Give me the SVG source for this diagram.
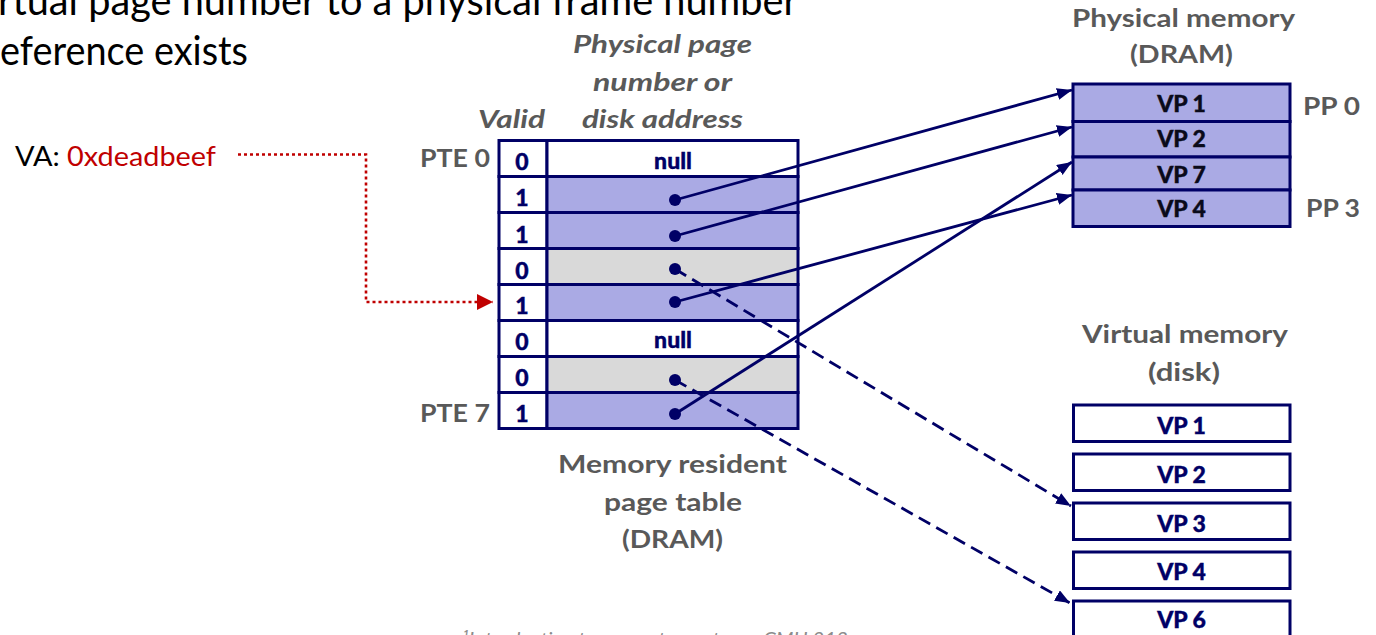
<svg xmlns="http://www.w3.org/2000/svg" width="1376" height="635" viewBox="0 0 1376 635">
  <defs>
    <style>
      .slide { font-family: Lato, "Liberation Sans", sans-serif; font-size: 40px; fill: #000; }
      .lbl { font-family: Lato, "Liberation Sans", sans-serif; font-weight: bold; font-size: 25px; fill: #595959; text-anchor: middle; }
      .hdr { font-style: italic; }
      .end { text-anchor: end; }
      .start { text-anchor: start; }
      .cell { fill: #fff; stroke: #000066; stroke-width: 3; }
      .mapped { fill: #aaaae4; }
      .ondisk { fill: #d9d9d9; }
      .num { font-family: Lato, "Liberation Sans", sans-serif; font-weight: 900; font-size: 23px; fill: #000066; text-anchor: middle; stroke: #000066; stroke-width: 0.4; }
      .vp { font-family: Lato, "Liberation Sans", sans-serif; font-weight: 900; font-size: 23px; fill: #0a0a1a; text-anchor: middle; stroke: #0a0a1a; stroke-width: 0.4; }
      .link { stroke: #000066; stroke-width: 2.8; fill: none; marker-end: url(#ah); }
      .dash { stroke-dasharray: 13 7; }
      .dot { fill: #000066; }
      .note { font-family: Lato, "Liberation Sans", sans-serif; font-style: italic; font-size: 19px; fill: #8c8c8c; }
    </style>
    <marker id="ah" markerUnits="userSpaceOnUse" markerWidth="16" markerHeight="14" refX="15" refY="6" orient="auto">
      <path d="M0,0 L15,6 L0,12 z" fill="#000066"/>
    </marker>
    <marker id="ahRed" markerUnits="userSpaceOnUse" markerWidth="17" markerHeight="16" refX="16" refY="8" orient="auto">
      <path d="M0,0 L16,8 L0,16 z" fill="#c00000"/>
    </marker>
  </defs>

  <!-- slide body text (partly clipped at the left and top) -->
  <g id="slide-text">
    <text class="slide" x="-2" y="15" textLength="800" lengthAdjust="spacingAndGlyphs">rtual page number to a physical frame number</text>
    <text class="slide" x="0" y="65" textLength="248" lengthAdjust="spacingAndGlyphs">eference exists</text>
  </g>

  <!-- virtual address -->
  <g id="va">
    <text x="15" y="166" font-family="Lato, 'Liberation Sans', sans-serif" font-size="27" textLength="201" lengthAdjust="spacingAndGlyphs"><tspan fill="#000">VA: </tspan><tspan fill="#c00000">0xdeadbeef</tspan></text>
  </g>

  <!-- page table -->
  <g id="page-table">
    <text class="lbl hdr" x="662.5" y="53" textLength="179" lengthAdjust="spacingAndGlyphs">Physical page</text>
    <text class="lbl hdr" x="662.5" y="91" textLength="139" lengthAdjust="spacingAndGlyphs">number or</text>
    <text class="lbl hdr" x="662.5" y="128" textLength="161" lengthAdjust="spacingAndGlyphs">disk address</text>
    <text class="lbl hdr" x="511.5" y="128" textLength="67" lengthAdjust="spacingAndGlyphs">Valid</text>
    <text class="lbl end" x="490" y="167" textLength="70" lengthAdjust="spacingAndGlyphs">PTE 0</text>
    <text class="lbl end" x="490" y="422" textLength="70" lengthAdjust="spacingAndGlyphs">PTE 7</text>

    <g id="pte0">
      <rect class="cell" x="499" y="140.5" width="48" height="36"/>
      <rect class="cell" x="547" y="140.5" width="251" height="36"/>
      <text class="num" x="522" y="170">0</text>
      <text class="num" x="673" y="169">null</text>
    </g>
    <g id="pte1">
      <rect class="cell" x="499" y="176.5" width="48" height="36"/>
      <rect class="cell mapped" x="547" y="176.5" width="251" height="36"/>
      <text class="num" x="522" y="206">1</text>
    </g>
    <g id="pte2">
      <rect class="cell" x="499" y="212.5" width="48" height="36"/>
      <rect class="cell mapped" x="547" y="212.5" width="251" height="36"/>
      <text class="num" x="522" y="243">1</text>
    </g>
    <g id="pte3">
      <rect class="cell" x="499" y="248.5" width="48" height="36"/>
      <rect class="cell ondisk" x="547" y="248.5" width="251" height="36"/>
      <text class="num" x="522" y="279">0</text>
    </g>
    <g id="pte4">
      <rect class="cell" x="499" y="284.5" width="48" height="36"/>
      <rect class="cell mapped" x="547" y="284.5" width="251" height="36"/>
      <text class="num" x="522" y="314">1</text>
    </g>
    <g id="pte5">
      <rect class="cell" x="499" y="320.5" width="48" height="36"/>
      <rect class="cell" x="547" y="320.5" width="251" height="36"/>
      <text class="num" x="522" y="350">0</text>
      <text class="num" x="673" y="348">null</text>
    </g>
    <g id="pte6">
      <rect class="cell" x="499" y="356.5" width="48" height="36"/>
      <rect class="cell ondisk" x="547" y="356.5" width="251" height="36"/>
      <text class="num" x="522" y="386">0</text>
    </g>
    <g id="pte7">
      <rect class="cell" x="499" y="392.5" width="48" height="36"/>
      <rect class="cell mapped" x="547" y="392.5" width="251" height="36"/>
      <text class="num" x="522" y="422">1</text>
    </g>

    <text class="lbl" x="672.5" y="473" textLength="229" lengthAdjust="spacingAndGlyphs">Memory resident</text>
    <text class="lbl" x="673" y="511" textLength="138" lengthAdjust="spacingAndGlyphs">page table</text>
    <text class="lbl" x="672.5" y="548" textLength="101" lengthAdjust="spacingAndGlyphs">(DRAM)</text>
  </g>

  <!-- physical memory -->
  <g id="phys-mem">
    <text class="lbl" x="1183.5" y="27" textLength="223" lengthAdjust="spacingAndGlyphs">Physical memory</text>
    <text class="lbl" x="1181.5" y="63" textLength="103" lengthAdjust="spacingAndGlyphs">(DRAM)</text>
    <g id="pp0">
      <rect class="cell mapped" x="1073" y="84" width="217" height="37.5"/>
      <text class="vp" x="1181.5" y="112">VP 1</text>
    </g>
    <g id="pp1">
      <rect class="cell mapped" x="1073" y="121.5" width="217" height="35.5"/>
      <text class="vp" x="1181.5" y="147">VP 2</text>
    </g>
    <g id="pp2">
      <rect class="cell mapped" x="1073" y="157" width="217" height="33"/>
      <text class="vp" x="1181.5" y="183">VP 7</text>
    </g>
    <g id="pp3">
      <rect class="cell mapped" x="1073" y="190" width="217" height="36.5"/>
      <text class="vp" x="1181.5" y="217">VP 4</text>
    </g>
    <text class="lbl start" x="1303" y="115" textLength="57" lengthAdjust="spacingAndGlyphs">PP 0</text>
    <text class="lbl start" x="1306" y="217" textLength="54" lengthAdjust="spacingAndGlyphs">PP 3</text>
  </g>

  <!-- virtual memory on disk -->
  <g id="disk-mem">
    <text class="lbl" x="1185" y="343" textLength="206" lengthAdjust="spacingAndGlyphs">Virtual memory</text>
    <text class="lbl" x="1184" y="381" textLength="72" lengthAdjust="spacingAndGlyphs">(disk)</text>
    <g id="disk-vp1">
      <rect class="cell" x="1073.5" y="405" width="216.5" height="36.5"/>
      <text class="num" x="1181.5" y="434">VP 1</text>
    </g>
    <g id="disk-vp2">
      <rect class="cell" x="1073.5" y="454" width="216.5" height="36.5"/>
      <text class="num" x="1181.5" y="483">VP 2</text>
    </g>
    <g id="disk-vp3">
      <rect class="cell" x="1073.5" y="503" width="216.5" height="36.5"/>
      <text class="num" x="1181.5" y="532">VP 3</text>
    </g>
    <g id="disk-vp4">
      <rect class="cell" x="1073.5" y="552" width="216.5" height="36.5"/>
      <text class="num" x="1181.5" y="580">VP 4</text>
    </g>
    <g id="disk-vp6">
      <rect class="cell" x="1073.5" y="601" width="216.5" height="36.5"/>
      <text class="num" x="1181.5" y="628">VP 6</text>
    </g>
  </g>

  <!-- connectors -->
  <g id="connectors">
    <polyline points="238,154.5 366,154.5 366,302 493,302" fill="none" stroke="#c00000" stroke-width="2.6" stroke-dasharray="3 3" marker-end="url(#ahRed)"/>
    <line class="link" x1="675" y1="200" x2="1072" y2="90"/>
    <line class="link" x1="675" y1="236" x2="1072" y2="127"/>
    <line class="link" x1="675" y1="302" x2="1072" y2="195"/>
    <line class="link" x1="675" y1="414" x2="1072" y2="162"/>
    <line class="link dash" x1="675" y1="269" x2="1071" y2="506"/>
    <line class="link dash" x1="675" y1="380" x2="1070" y2="603"/>
    <circle class="dot" cx="675" cy="200" r="6"/>
    <circle class="dot" cx="675" cy="236" r="6"/>
    <circle class="dot" cx="675" cy="269" r="6"/>
    <circle class="dot" cx="675" cy="302" r="6"/>
    <circle class="dot" cx="675" cy="380" r="6"/>
    <circle class="dot" cx="675" cy="414" r="6"/>
  </g>

  <!-- footnote (clipped at the bottom edge) -->
  <text class="note" x="462" y="646" textLength="386" lengthAdjust="spacingAndGlyphs">¹Introduction to computer systems, CMU 213</text>
</svg>
